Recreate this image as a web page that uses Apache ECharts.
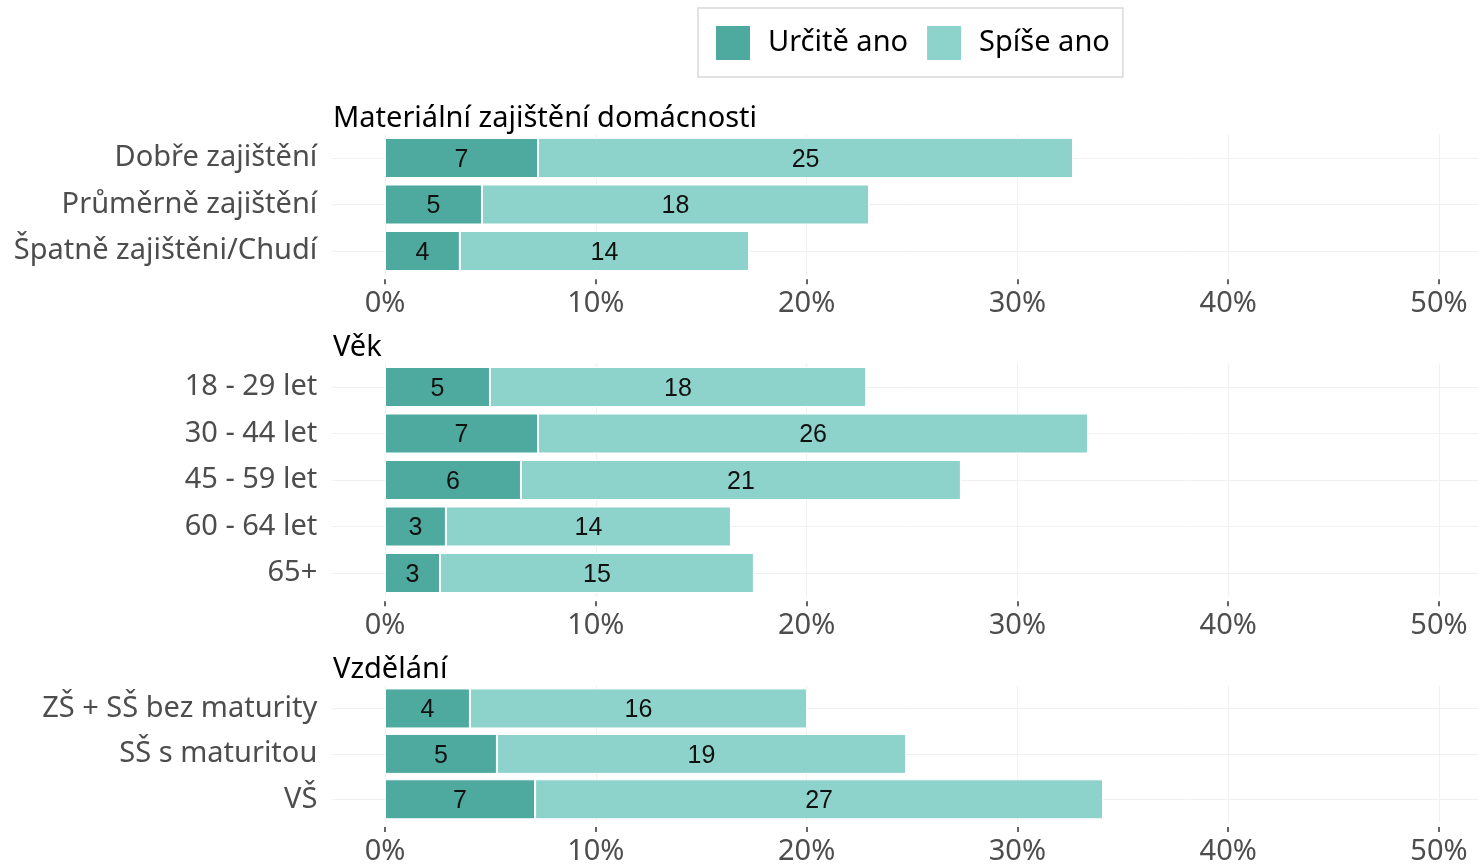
<!DOCTYPE html>
<html>
<head>
<meta charset="utf-8">
<script src="https://cdn.jsdelivr.net/npm/echarts@6/dist/echarts.min.js"></script>
<style>
  html, body { margin: 0; padding: 0; background: #fff; }
  #chart { width: 1478px; height: 866px; }
</style>
</head>
<body>
<div id="chart"></div>
<script>
"use strict";
// hodnoty v %
var seriesNames = ["Určitě ano", "Spíše ano"];
var panelTitles = ["Materiální zajištění domácnosti", "Věk", "Vzdělání"];

var matCats = ["Dobře zajištění", "Průměrně zajištění", "Špatně zajištěni/Chudí"];
var matUrcite = [7.26, 4.60, 3.55];
var matSpise = [25.38, 18.36, 13.72];

var vekCats = ["18 - 29 let", "30 - 44 let", "45 - 59 let", "60 - 64 let", "65+"];
var vekUrcite = [4.98, 7.26, 6.45, 2.89, 2.61];
var vekSpise = [17.84, 26.09, 20.87, 13.52, 14.89];

var vzdCats = ["ZŠ + SŠ bez maturity", "SŠ s maturitou", "VŠ"];
var vzdUrcite = [4.03, 5.31, 7.12];
var vzdSpise = [15.99, 19.41, 26.94];

var xTicks = [0, 10, 20, 30, 40, 50];

var colors = ["#4ea99f", "#8dd3cb"];
var font = "Noto Sans";

var panels = [
  { cats: matCats, a: matUrcite, b: matSpise, top: 134.75 },
  { cats: vekCats, a: vekUrcite, b: vekSpise, top: 363.75 },
  { cats: vzdCats, a: vzdUrcite, b: vzdSpise, top: 685.75 }
];
var band = 46.5;

var grids = [], xAxes = [], yAxes = [], series = [], titles = [];

panels.forEach(function (p, i) {
  var h = band * p.cats.length;
  // osa x: -2.5 .. 51.85 (obrázek je vpravo oříznutý)
  grids.push({ left: 332.3, top: p.top, right: 0, height: h, containLabel: false });
  titles.push({
    text: panelTitles[i], left: 333, top: p.top - 31, padding: 0,
    textStyle: { fontFamily: font, fontSize: 29, fontWeight: "normal", color: "#000" }
  });
  xAxes.push({
    type: "value", gridIndex: i, min: -2.5, max: 51.85, offset: 5,
    axisLine: { show: false },
    axisTick: { show: true, length: 5, customValues: xTicks, lineStyle: { color: "#333", width: 1.5 } },
    axisLabel: {
      customValues: xTicks, margin: 10, color: "#4d4d4d", fontFamily: font, fontSize: 29,
      formatter: function (v) { return v + "%"; }
    },
    splitLine: { show: false }
  });
  yAxes.push({
    type: "category", gridIndex: i, data: p.cats, inverse: true,
    axisLine: { show: false }, axisTick: { show: false },
    axisLabel: {
      margin: 15, color: "#4d4d4d", fontFamily: font, fontSize: 29,
      lineHeight: 29, padding: [6, 0, 0, 0]
    },
    splitLine: { show: false }
  });

  // mřížka pod sloupci
  var lines = xTicks.map(function (t) { return { xAxis: t }; });
  p.cats.forEach(function (c) { lines.push({ yAxis: c }); });
  series.push({
    type: "line", name: "grid" + i, xAxisIndex: i, yAxisIndex: i, z: 0, silent: true,
    data: p.cats.map(function () { return null; }), symbol: "none",
    markLine: {
      silent: true, symbol: "none", animation: false, z: 0,
      label: { show: false },
      lineStyle: { color: "#f0f0f0", width: 1, type: "solid" },
      data: lines
    }
  });

  [p.a, p.b].forEach(function (vals, k) {
    series.push({
      type: "bar", name: seriesNames[k], stack: "s" + i, xAxisIndex: i, yAxisIndex: i,
      barWidth: 40, z: 2, data: vals,
      itemStyle: { color: colors[k], borderColor: "#fff", borderWidth: 1 },
      label: {
        show: true, position: "inside", offset: [0, 2], color: "#111",
        fontFamily: "Liberation Sans", fontSize: 25,
        formatter: function (d) { return Math.round(d.value); }
      },
      emphasis: { disabled: true }
    });
  });
});

var chart = echarts.init(document.getElementById("chart"));
chart.setOption({
  animation: false,
  backgroundColor: "#fff",
  title: titles,
  legend: {
    data: seriesNames, left: 698, top: 8, orient: "horizontal", icon: "rect",
    itemWidth: 36, itemHeight: 36, itemGap: 17,
    padding: [16, 13, 15, 16],
    borderColor: "#d9d9d9", borderWidth: 1.5, backgroundColor: "#fff",
    textStyle: { fontFamily: font, fontSize: 29, color: "#000", padding: [4, 0, 0, 12] },
    selectedMode: false
  },
  grid: grids,
  xAxis: xAxes,
  yAxis: yAxes,
  series: series
});
</script>
</body>
</html>
